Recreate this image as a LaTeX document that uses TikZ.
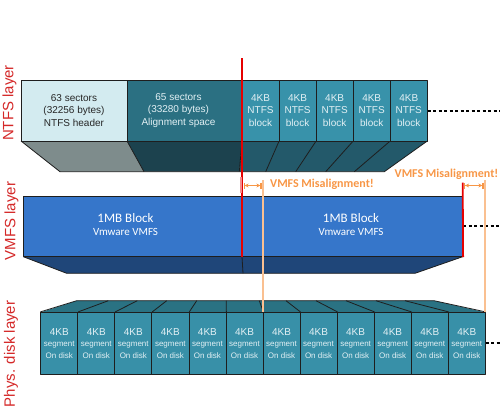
\documentclass[tikz,border=0pt]{standalone}
\usepackage{fontspec}
\setmainfont{Liberation Sans}
\newfontfamily\carl{Carlito}
\usetikzlibrary{arrows.meta}
\definecolor{edge}{RGB}{30,30,30}
\definecolor{hdrFront}{RGB}{211,235,240}
\definecolor{hdrBottom}{RGB}{126,140,140}
\definecolor{alnFront}{RGB}{43,112,130}
\definecolor{alnBottom}{RGB}{28,66,78}
\definecolor{blkFront}{RGB}{56,146,170}
\definecolor{blkBottom}{RGB}{35,89,106}
\definecolor{vmfsFront}{RGB}{54,118,202}
\definecolor{vmfsBottom}{RGB}{31,70,121}
\definecolor{diskFront}{RGB}{56,144,168}
\definecolor{diskTop}{RGB}{42,114,131}
\definecolor{lightTxt}{RGB}{226,240,244}
\definecolor{labelRed}{RGB}{212,40,40}
\definecolor{misOrange}{RGB}{247,150,70}
\definecolor{misLine}{RGB}{250,192,145}
\definecolor{redLine}{RGB}{230,0,0}
\begin{document}
\begin{tikzpicture}[x=1pt,y=-1pt,
  face/.style={draw=edge, line width=0.8pt, line join=round},
  ntfsbox/.style={face, minimum height=61pt, inner sep=0pt, align=center,
    font=\fontsize{10}{12.3}\selectfont},
  blockbox/.style={ntfsbox, fill=blkFront, text=lightTxt, minimum width=37.06pt},
  segbox/.style={face, fill=diskFront, minimum width=37.05pt, minimum height=62pt,
    inner sep=0pt, align=center, text=lightTxt, font=\fontsize{10}{11.3}\selectfont},
  layerlabel/.style={rotate=90, text=labelRed, inner sep=0pt, font=\fontsize{15}{15}\selectfont},
  misal/.style={text=misOrange, inner sep=0pt, font=\carl\bfseries\fontsize{12}{12}\selectfont},
  vmtxt/.style={text=white, align=center, inner sep=0pt, font=\carl\fontsize{13}{13}\selectfont},
  dotline/.style={draw=black, line width=2pt, dash pattern=on 3pt off 2.5pt},
  misarrow/.style={draw=misOrange, line width=1.1pt, {Bar[width=6pt]Stealth[length=4pt,width=4pt]}-{Stealth[length=4pt,width=4pt]Bar[width=6pt]}},
  orangeline/.style={draw=misLine, line width=2pt},
  redmark/.style={draw=redLine, line width=1.8pt}
]
\useasboundingbox (0,0) rectangle (500,408);

% ---------- NTFS layer ----------
\fill[hdrBottom] (21,141) -- (127,141) -- (144,171.7) -- (60,171.7) -- cycle;
\fill[alnBottom] (127,141) -- (242,141) -- (239.3,171.7) -- (144,171.7) -- cycle;
\fill[blkBottom] (242,141) -- (427.3,141) -- (384.3,171.7) -- (239.3,171.7) -- cycle;
\draw[face] (21,141) -- (60,171.7) -- (384.3,171.7) -- (427.3,141);
\draw[face] (127,141) -- (144,171.7);
\draw[face] (242,141) -- (239.3,171.7);
\draw[face] (279.1,141) -- (265.7,171.7);
\draw[face] (316.1,141) -- (295.7,171.7);
\draw[face] (353.2,141) -- (325.7,171.7);
\draw[face] (390.2,141) -- (354.3,171.7);

\node[ntfsbox, fill=hdrFront, text=black!85, minimum width=106pt] (hdr) at (74,110.5)
  {63 sectors\\(32256 bytes)\\NTFS header};
\node[ntfsbox, fill=alnFront, minimum width=115pt] (aln) at (184.5,110.5) {};
\node[align=center, text=lightTxt, inner sep=0pt, font=\fontsize{10}{12.3}\selectfont]
  (alntxt) at ([xshift=-6pt]aln.center) {65 sectors\\(33280 bytes)\\Alignment space};
\foreach \i in {1,...,5}{
  \node[blockbox] (b\i) at ({242+37.06*(\i-0.5)},110.5) {4KB\\NTFS\\block};
}
\coordinate (e1) at (500,110.5);
\draw[dotline] (b5.east) -- (e1);

% ---------- VMFS layer ----------
\fill[vmfsBottom] (23.3,256.7) -- (462.7,256.7) -- (415,273.3) -- (66.7,273.3) -- cycle;
\draw[face] (23.3,256.7) -- (66.7,273.3) -- (415,273.3) -- (462.7,256.7);
\draw[face] (242,256.7) -- (243,273.3);
\node[face, fill=vmfsFront, minimum width=439.4pt, minimum height=60.7pt, inner sep=0pt]
  (vmfs) at (243,226.35) {};
\node[vmtxt] (v1) at (125.5,225) {1MB Block\\{\fontsize{11}{13}\selectfont Vmware VMFS}};
\node[vmtxt] (v2) at (351,225) {1MB Block\\{\fontsize{11}{13}\selectfont Vmware VMFS}};
\coordinate (e2) at (500,226.35);
\draw[dotline] (vmfs.east) -- (e2);

% ---------- Physical disk layer ----------
\fill[diskTop] (40.7,312.3) -- (76.7,300.7) -- (434,300.7) -- (485.3,312.3) -- cycle;
\foreach \i in {1,...,12}{
  \node[segbox] (s\i) at ({40.7+37.05*(\i-0.5)},343.3)
    {4KB\\{\fontsize{8}{11.3}\selectfont segment}\\{\fontsize{8}{11.3}\selectfont On disk}};
}
\draw[face] (s1.north west) -- (76.7,300.7) -- (434,300.7) -- (s12.north east);
\foreach \i/\t in {1/108.3,2/137.3,3/166.7,4/196.7,5/226.3,6/259.3,7/286,8/316,9/346,10/376,11/405}{
  \draw[face] (s\i.north east) -- (\t,300.7);
}
\coordinate (e3) at (500,343.3);
\draw[dotline] (s12.east) -- (e3);

% ---------- misalignment marks ----------
\coordinate (rtop) at (242,58);
\coordinate (rbot) at (242,256.7);
\draw[redmark] (rtop) -- (rbot);
\draw[redmark] (462.7,182.7) -- (vmfs.south east);
\draw[draw=redLine!45, line width=2pt] (240.8,177) -- (240.8,193);
\coordinate (o1t) at (262.5,180);
\coordinate (o1b) at (262.5,312.3);
\coordinate (o2t) at (484.5,180);
\coordinate (o2b) at (484.5,312.3);
\draw[orangeline] (o1t) -- (o1b);
\draw[orangeline] (o2t) -- (o2b);
\coordinate (a1l) at (243.5,185.5);
\coordinate (a1r) at (261.5,185.5);
\coordinate (a2l) at (464,185.5);
\coordinate (a2r) at (483.5,185.5);
\draw[misarrow] (a1l) -- (a1r);
\draw[misarrow] (a2l) -- (a2r);
\node[misal] (m1) at (322,184.5) {VMFS Misalignment!};
\node[misal] (m2) at (446.5,174) {VMFS Misalignment!};

% ---------- layer labels ----------
\node[layerlabel] (l1) at (9.5,103) {NTFS layer};
\node[layerlabel] (l2) at (11.5,221) {VMFS layer};
\node[layerlabel] (l3) at (11,354) {Phys. disk layer};
\end{tikzpicture}
\end{document}
